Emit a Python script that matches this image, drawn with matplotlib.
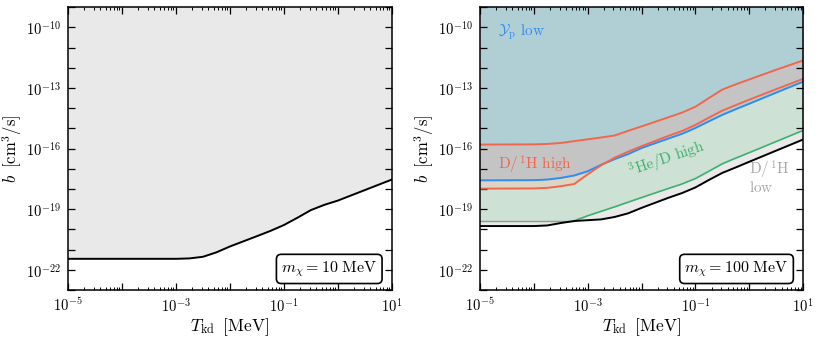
#!/usr/bin/env python3

import numpy as np
import matplotlib
matplotlib.use('Agg')
import matplotlib.pyplot as plt
from matplotlib.ticker import FixedLocator, FuncFormatter, LogLocator, NullFormatter

plt.rcParams['mathtext.fontset'] = 'cm'
plt.rcParams['font.family'] = 'serif'
plt.rcParams['font.serif'] = ['DejaVu Serif']

# log10 of T_kd [MeV], shared grid for every curve
log_tkd = [-5, -4, -3.75, -3.5, -3.25, -3, -2.75, -2.5, -2.25, -2, -1.5, -1.25, -1,
           -0.75, -0.5, -0.25, 0, 0.5, 1]

# Left panel, m_chi = 10 MeV: log10 b [cm^3/s]
left_bound = [-21.45, -21.45, -21.45, -21.45, -21.45, -21.45, -21.43, -21.35, -21.13, -20.84,
              -20.33, -20.07, -19.78, -19.42, -19.04, -18.78, -18.57, -18.05, -17.53]

# Right panel, m_chi = 100 MeV: log10 b [cm^3/s]
dh_high_upper = [-15.80, -15.79, -15.77, -15.72, -15.63, -15.54, -15.45, -15.35, -15.12, -14.9,
                 -14.45, -14.22, -13.93, -13.5, -13.08, -12.82, -12.58, -12.1, -11.64]
dh_high_lower = [-17.98, -17.97, -17.94, -17.86, -17.75, -17.27, -16.82, -16.45, -16.15, -15.88,
                 -15.37, -15.13, -14.83, -14.47, -14.12, -13.85, -13.58, -13.06, -12.55]
yp_low = [-17.57, -17.56, -17.53, -17.45, -17.33, -17.12, -16.80, -16.52, -16.27, -15.97,
          -15.5, -15.27, -14.98, -14.65, -14.33, -14.05, -13.78, -13.23, -12.69]
he3d_high = [-19.57, -19.57, -19.57, -19.57, -19.57, -19.32, -19.1, -18.88, -18.65, -18.42,
             -17.97, -17.75, -17.48, -17.12, -16.75, -16.47, -16.2, -15.65, -15.1]
dh_low = [-19.83, -19.83, -19.80, -19.68, -19.58, -19.54, -19.5, -19.38, -19.2, -18.93,
          -18.43, -18.2, -17.92, -17.55, -17.2, -16.93, -16.65, -16.1, -15.55]

he3d_start = 4  # index where the green boundary begins (gray before it)

T = 10.0 ** np.array(log_tkd)
TOP = 1e-8


def p(a):
    return 10.0 ** np.array(a)


def style_axes(ax):
    ax.set_xscale('log')
    ax.set_yscale('log')
    ax.set_xlim(1e-5, 1e1)
    ax.set_ylim(1e-23, 1e-9)
    ax.xaxis.set_major_locator(FixedLocator(10.0 ** np.arange(-5, 2)))
    ax.xaxis.set_major_formatter(FuncFormatter(
        lambda v, pos: r'$10^{%d}$' % round(np.log10(v)) if round(np.log10(v)) % 2 == 1 else ''))
    ax.xaxis.set_minor_locator(LogLocator(base=10, subs=np.arange(2, 10), numticks=20))
    ax.xaxis.set_minor_formatter(NullFormatter())
    ax.yaxis.set_major_locator(FixedLocator(10.0 ** np.arange(-23, -8)))
    ax.yaxis.set_major_formatter(FuncFormatter(
        lambda v, pos: r'$10^{%d}$' % round(np.log10(v)) if round(np.log10(v)) % 3 == 2 else ''))
    ax.yaxis.set_minor_locator(FixedLocator([]))
    ax.tick_params(which='both', direction='in', top=True, right=True, labelsize=10.5)
    ax.tick_params(which='major', length=5, width=0.9, pad=5)
    ax.tick_params(which='minor', length=2.5, width=0.7)
    for s in ax.spines.values():
        s.set_linewidth(1.1)
    ax.set_xlabel(r'$T_\mathrm{kd}\;\;[\mathrm{MeV}]$', fontsize=12.5, labelpad=1)
    ax.set_ylabel(r'$b\;\;[\mathrm{cm}^3/\mathrm{s}]$', fontsize=12)
    ax.yaxis.set_label_coords(-0.137, 0.5)


fig = plt.figure(figsize=(8.22, 3.37), dpi=100)
ax1 = fig.add_axes([0.0827, 0.139, 0.394, 0.840])
ax2 = fig.add_axes([0.584, 0.139, 0.393, 0.840])

# Left panel
ax1.fill_between(T, p(left_bound), TOP, color='#e9e9e9', lw=0)
ax1.plot(T, p(left_bound), color='black', lw=1.4)
style_axes(ax1)
ax1.text(0.955, 0.075, r'$m_\chi = 10\ \mathrm{MeV}$', transform=ax1.transAxes,
         ha='right', va='center', fontsize=11.5,
         bbox=dict(boxstyle='round,pad=0.3', fc='white', ec='black', lw=1.2))

# Right panel
ax2.fill_between(T, p(dh_low), TOP, color='#e9e9e9', lw=0)
ax2.fill_between(T, p(he3d_high), TOP, color='#cde1d5', lw=0)
ax2.fill_between(T, p(yp_low), TOP, color='#afcfd4', lw=0)
ax2.fill_between(T, p(dh_high_lower), p(dh_high_upper), color='#c4c4c4', lw=0)
ax2.fill_between(T, p(dh_high_lower), p(yp_low), where=np.array(yp_low) >= np.array(dh_high_lower),
                 interpolate=True, color='#ded4c4', lw=0)

ax2.plot(T[:he3d_start + 1], p(he3d_high[:he3d_start + 1]), color='#8e9a92', lw=1.0)
ax2.plot(T[he3d_start:], p(he3d_high[he3d_start:]), color='#3fb06c', lw=1.2)
ax2.plot(T, p(dh_low), color='black', lw=1.4)
ax2.plot(T, p(yp_low), color='#2f8cf0', lw=1.4)
ax2.plot(T, p(dh_high_lower), color='#f0674c', lw=1.4)
ax2.plot(T, p(dh_high_upper), color='#f0674c', lw=1.4)
style_axes(ax2)

ax2.text(2.2e-5, 6e-11, r'$\mathcal{Y}_\mathrm{p}\ \mathrm{low}$', color='#2f8cf0', fontsize=11,
         ha='left', va='center')
ax2.text(2.2e-5, 1.6e-17, r'$\mathrm{D}/^1\mathrm{H\ high}$', color='#f0674c', fontsize=11,
         ha='left', va='center')
ax2.text(3.0e-2, 2.8e-17, r'$^3\mathrm{He}/\mathrm{D\ high}$', color='#3fb06c', fontsize=11,
         ha='center', va='center', rotation=19)
ax2.text(1.0, 9e-18, r'$\mathrm{D}/^1\mathrm{H}$', color='#a8a8a8', fontsize=11,
         ha='left', va='center')
ax2.text(1.0, 1.2e-18, r'$\mathrm{low}$', color='#a8a8a8', fontsize=11,
         ha='left', va='center')
ax2.text(0.955, 0.075, r'$m_\chi = 100\ \mathrm{MeV}$', transform=ax2.transAxes,
         ha='right', va='center', fontsize=11.5,
         bbox=dict(boxstyle='round,pad=0.3', fc='white', ec='black', lw=1.2))

fig.savefig('out.png', dpi=100)
